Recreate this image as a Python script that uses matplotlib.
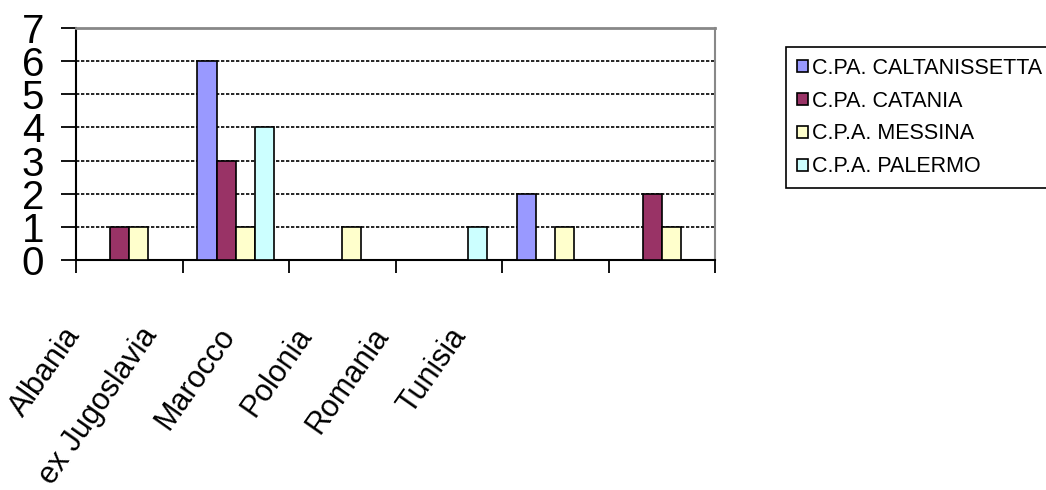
import numpy as np
import matplotlib.pyplot as plt
from matplotlib.patches import Patch

plt.rcParams['font.family'] = ['Liberation Sans', 'DejaVu Sans']

# data
countries = ['Albania', 'ex Jugoslavia', 'Marocco', 'Polonia', 'Romania', 'Tunisia']
series = ['C.PA. CALTANISSETTA', 'C.PA. CATANIA', 'C.P.A. MESSINA', 'C.P.A. PALERMO']
caltanissetta = [0, 6, 0, 0, 2, 0]
catania = [1, 3, 0, 0, 0, 2]
messina = [1, 1, 1, 0, 1, 1]
palermo = [0, 4, 0, 1, 0, 0]
colors = ['#9999FF', '#993366', '#FFFFCC', '#CCFFFF']

values = [caltanissetta, catania, messina, palermo]

fig = plt.figure(figsize=(10.46, 4.9), dpi=100)
ax = fig.add_axes([76/1046, 1 - 260/490, (715-76)/1046, (260-28)/490])

x = np.arange(len(countries))
w = 0.18
for i, (vals, c) in enumerate(zip(values, colors)):
    ax.bar(x + (i - 1.5) * w, vals, width=w, color=c, edgecolor='black',
           linewidth=1.2, zorder=3)

ax.set_xlim(-0.5, len(countries) - 0.5)
ax.set_ylim(0, 7)
ax.set_yticks(range(0, 8))
ax.tick_params(axis='y', labelsize=29, length=11, width=1.3, pad=12)
ax.set_xticks(np.arange(len(countries) + 1) - 0.5)
ax.set_xticklabels([])
ax.tick_params(axis='x', length=9, width=1.3)

ax.set_axisbelow(True)
ax.yaxis.grid(True, color='black', linestyle=(0, (2, 1)), linewidth=1.2)
ax.spines['left'].set_linewidth(1.5)
ax.spines['bottom'].set_linewidth(1.5)
ax.spines['top'].set_color('#888888')
ax.spines['right'].set_color('#888888')
ax.spines['top'].set_linewidth(2)
ax.spines['right'].set_linewidth(1.5)

# category labels (Excel places them on their own spacing)
lab = fig.add_axes([62/1046, 1 - 322/490, (448-62)/1046, 0.001])
lab.set_xlim(0, len(countries) - 1)
lab.set_xticks(x)
lab.set_xticklabels(countries, rotation=55, ha='right', va='top',
                    rotation_mode='anchor', fontsize=22)
lab.tick_params(axis='x', length=0, pad=0)
lab.set_yticks([])
for s in lab.spines.values():
    s.set_visible(False)
lab.patch.set_visible(False)

handles = [Patch(facecolor=c, edgecolor='black', linewidth=1.2) for c in colors]
leg = fig.legend(handles, series, loc='upper left', bbox_to_anchor=(786/1046, 1 - 47/490),
                 fontsize=15.5, handlelength=0.5, handleheight=0.5, handletextpad=0.2,
                 labelspacing=0.55, borderpad=0.5, borderaxespad=0, fancybox=False,
                 framealpha=1)
leg.get_frame().set_edgecolor('black')
leg.get_frame().set_linewidth(1.2)

fig.savefig('out.png', dpi=100)
